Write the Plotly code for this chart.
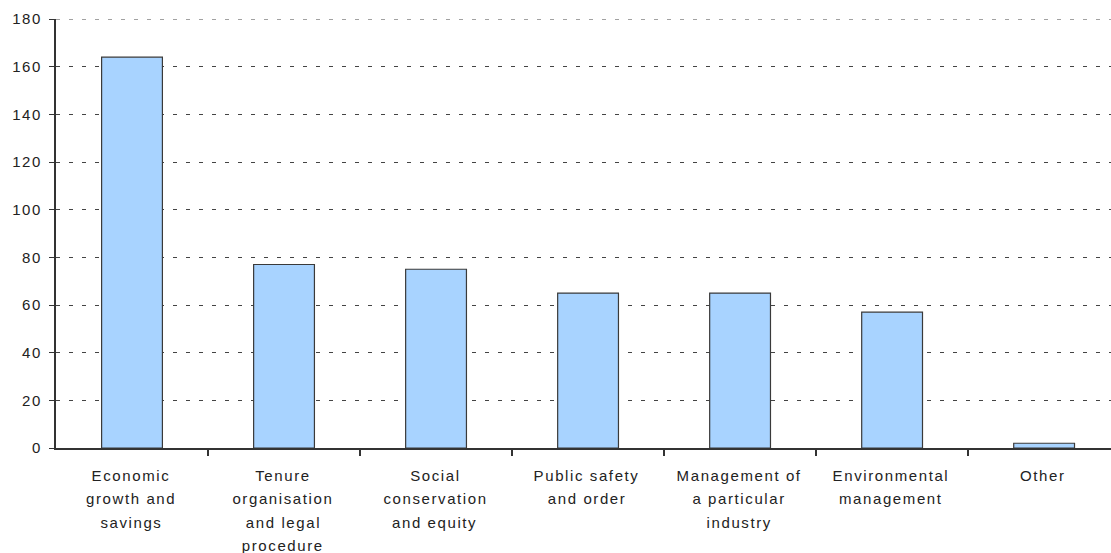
import plotly.graph_objects as go

# Counts per category
categories = [
    "Economic<br>growth and<br>savings",
    "Tenure<br>organisation<br>and legal<br>procedure",
    "Social<br>conservation<br>and equity",
    "Public safety<br>and order",
    "Management of<br>a particular<br>industry",
    "Environmental<br>management",
    "Other",
]
values = [164, 77, 75, 65, 65, 57, 2]
y_ticks = [0, 20, 40, 60, 80, 100, 120, 140, 160, 180]

FONT = "Liberation Sans, Arial, sans-serif"
TEXT = "#222222"
GRID = "#444444"

x_pos = list(range(len(categories)))
# tick marks sit between neighbouring categories
boundaries = [i + 0.5 for i in x_pos]

fig = go.Figure(
    go.Bar(
        x=x_pos,
        y=values,
        width=0.4,
        marker=dict(color="#A8D3FF", line=dict(color="#3a3a3a", width=1.2)),
        hoverinfo="skip",
    )
)

# Category labels, one line at a time for a roomier line height
line_gap = 23.5
for xi, label in zip(x_pos, categories):
    for k, line in enumerate(label.split("<br>")):
        fig.add_annotation(
            x=xi, xref="x", y=0, yref="paper",
            text=line, showarrow=False,
            xanchor="center", yanchor="middle",
            yshift=-(27 + k * line_gap), xshift=-1,
            font=dict(family=FONT, size=15, color=TEXT),
        )

# Top gridline along the upper edge of the plot
fig.add_shape(
    type="line", xref="paper", x0=0, x1=1, yref="y", y0=y_ticks[-1], y1=y_ticks[-1],
    line=dict(color=GRID, width=1, dash="4px,9px"), layer="below",
)

fig.update_layout(
    width=1111, height=553,
    margin=dict(l=56, r=0, t=19, b=105),
    paper_bgcolor="white", plot_bgcolor="white",
    showlegend=False,
    font=dict(family=FONT, size=15, color=TEXT),
    xaxis=dict(
        range=[-0.5, 6.44],
        showticklabels=False,
        tickmode="array", tickvals=boundaries,
        ticks="outside", ticklen=6,
        tickcolor="#333333", tickwidth=1.5,
        showgrid=False, zeroline=False,
        showline=True, linecolor="#333333", linewidth=1.5,
        fixedrange=True,
    ),
    yaxis=dict(
        range=[0, 180],
        tickmode="array", tickvals=y_ticks,
        ticks="outside", ticklen=5, tickcolor="#333333", tickwidth=1,
        ticklabelstandoff=4,
        tickfont=dict(family=FONT, size=15, color=TEXT),
        showgrid=True, gridcolor=GRID, gridwidth=1, griddash="4px,9px",
        zeroline=False,
        showline=True, linecolor="#333333", linewidth=2,
        fixedrange=True,
    ),
)

# Wide character spacing on the axis and category text
spacing_js = """
var gd = document.getElementById('{plot_id}');
gd.querySelectorAll('.annotation-text, .ytick text').forEach(function (el) {
    el.style.letterSpacing = '1.6px';
});
"""

fig.write_html("out.html", post_script=spacing_js)
